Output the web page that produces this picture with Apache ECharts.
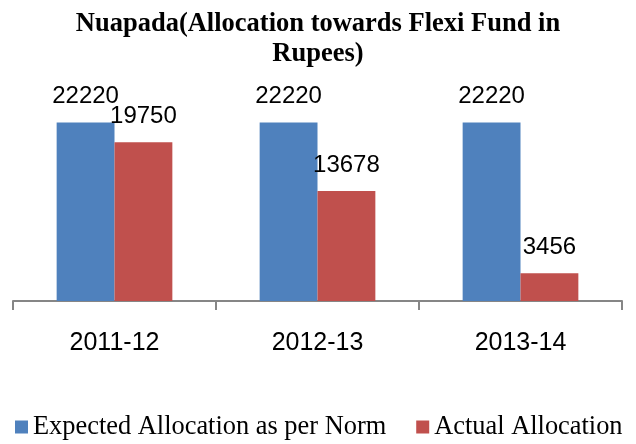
<!DOCTYPE html>
<html>
<head>
<meta charset="utf-8">
<script src="https://cdn.jsdelivr.net/npm/echarts@6/dist/echarts.min.js"></script>
<style>
html, body { margin: 0; padding: 0; background: #fff; }
#chart { width: 636px; height: 444px; }
</style>
</head>
<body>
<div id="chart"></div>
<script>
const years = ['2011-12', '2012-13', '2013-14']
const expected = [22220, 22220, 22220]
const actual = [19750, 13678, 3456]

const chart = echarts.init(document.getElementById('chart'))

const labelStyle = {
  show: true,
  position: 'top',
  distance: 14,
  color: '#000',
  fontFamily: 'Liberation Sans',
  fontSize: 24
}

chart.setOption({
  animation: false,
  title: {
    text: 'Nuapada(Allocation towards Flexi Fund in\nRupees)',
    left: 'center',
    top: 4,
    textStyle: {
      fontFamily: 'Liberation Serif',
      fontWeight: 'bold',
      fontSize: 26.5,
      lineHeight: 30,
      color: '#000'
    }
  },
  legend: {
    top: 414,
    left: 15,
    width: 621,
    padding: 0,
    icon: 'rect',
    itemWidth: 13,
    itemHeight: 13,
    itemGap: 30,
    textStyle: {
      fontFamily: 'Liberation Serif',
      fontSize: 26.4,
      color: '#000'
    }
  },
  grid: { left: 13, right: 14, top: 60, bottom: 143 },
  xAxis: {
    type: 'category',
    data: years,
    axisLine: { show: true, lineStyle: { color: '#868686', width: 2 } },
    axisTick: {
      show: true,
      alignWithLabel: false,
      interval: 0,
      length: 9,
      lineStyle: { color: '#868686', width: 2 }
    },
    axisLabel: {
      margin: 30,
      color: '#000',
      fontFamily: 'Liberation Sans',
      fontSize: 25
    }
  },
  yAxis: {
    type: 'value',
    min: 0,
    max: 30000,
    show: false,
    splitLine: { show: false }
  },
  series: [
    {
      name: 'Expected Allocation as per Norm',
      type: 'bar',
      data: expected,
      barGap: 0,
      barCategoryGap: '43%',
      itemStyle: { color: '#4F81BD' },
      label: labelStyle
    },
    {
      name: 'Actual Allocation',
      type: 'bar',
      data: actual,
      itemStyle: { color: '#C0504D' },
      label: labelStyle
    }
  ]
})
</script>
</body>
</html>
